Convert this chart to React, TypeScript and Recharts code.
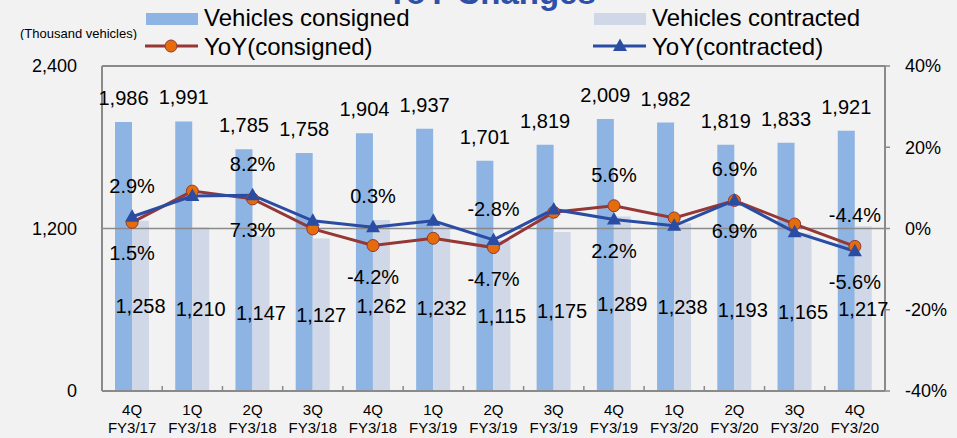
import React from 'react'
import { ComposedChart, Bar, Line, XAxis, YAxis, ReferenceLine, LabelList, Legend } from 'recharts'

const quarters = ['4Q', '1Q', '2Q', '3Q', '4Q', '1Q', '2Q', '3Q', '4Q', '1Q', '2Q', '3Q', '4Q']
const fiscalYears = ['FY3/17', 'FY3/18', 'FY3/18', 'FY3/18', 'FY3/18', 'FY3/19', 'FY3/19', 'FY3/19', 'FY3/19', 'FY3/20', 'FY3/20', 'FY3/20', 'FY3/20']
const consigned = [1986, 1991, 1785, 1758, 1904, 1937, 1701, 1819, 2009, 1982, 1819, 1833, 1921]
const contracted = [1258, 1210, 1147, 1127, 1262, 1232, 1115, 1175, 1289, 1238, 1193, 1165, 1217]
const yoyConsigned = [1.5, 9.2, 7.3, -0.1, -4.2, -2.4, -4.7, 4.0, 5.6, 2.6, 6.9, 1.1, -4.4]
const yoyContracted = [2.9, 8.0, 8.2, 1.9, 0.3, 1.9, -2.8, 4.7, 2.2, 0.7, 6.9, -0.9, -5.6]
const leftTicks = [0, 1200, 2400]
const rightTicks = [-40, -20, 0, 20, 40]

const data = quarters.map((q, i) => ({
  key: `${q} ${fiscalYears[i]}`,
  consigned: consigned[i],
  contracted: contracted[i],
  yoyConsigned: yoyConsigned[i],
  yoyContracted: yoyContracted[i],
}))

const FONT = '"Liberation Sans", Arial, sans-serif'
const BAR_BLUE = '#8DB4E2'
const BAR_GRAY = '#D0D8E8'
const RED = '#953735'
const ORANGE = '#E46C0A'
const BLUE = '#2A4CA3'
const AXIS = '#8A8A8A'

const fmt = (v: number) => v.toLocaleString('en-US')
const pct = (v: number) => `${v.toFixed(1)}%`

const XTick = (props: any) => {
  const { x, y, index, width, visibleTicksCount } = props
  const band = width / visibleTicksCount
  return (
    <g>
      {index < visibleTicksCount - 1 && (
        <line x1={x + band / 2} x2={x + band / 2} y1={y} y2={y - 5} stroke={AXIS} strokeWidth={1.5} />
      )}
      <text x={x} y={y + 24} textAnchor="middle" fontSize={15} fill="#000">{quarters[index]}</text>
      <text x={x} y={y + 42} textAnchor="middle" fontSize={15} fill="#000">{fiscalYears[index]}</text>
    </g>
  )
}

const topLabel = (props: any) => {
  const { x, y, width, value } = props
  return (
    <text x={x + width / 2} y={y - 17} textAnchor="middle" fontSize={20} fill="#000">{fmt(value)}</text>
  )
}

const midLabel = (props: any) => {
  const { x, y, width, height, value } = props
  return (
    <text x={x + width / 2} y={y + height / 2 + 7} textAnchor="middle" fontSize={20} fill="#000">{fmt(value)}</text>
  )
}

// every other quarter is labelled; the higher line gets its label above
const yoyLabel = (isConsigned: boolean) => (props: any) => {
  const { x, y, index, value } = props
  if (index % 2 !== 0) return <g />
  const c = yoyConsigned[index]
  const k = yoyContracted[index]
  const above = isConsigned ? c >= k : k > c
  return (
    <text x={x} y={above ? y - 24 : y + 38} textAnchor="middle" fontSize={20} fill="#000">{pct(value)}</text>
  )
}

const Triangle = (props: any) => {
  const { cx, cy, index } = props
  return (
    <path key={index} d={`M${cx},${cy - 7.5} L${cx + 7},${cy + 5} L${cx - 7},${cy + 5} Z`} fill={BLUE} />
  )
}

const renderLegend = () => (
  <svg width={957} height={64} style={{ display: 'block', fontFamily: FONT }}>
    <rect x={146} y={13} width={52} height={12} fill={BAR_BLUE} />
    <text x={204} y={26} fontSize={24} fill="#000">Vehicles consigned</text>
    <rect x={594} y={13} width={52} height={12} fill={BAR_GRAY} />
    <text x={652} y={26} fontSize={24} fill="#000">Vehicles contracted</text>
    <line x1={145} x2={198} y1={46} y2={46} stroke={RED} strokeWidth={3} />
    <circle cx={171} cy={46} r={6} fill={ORANGE} stroke={RED} strokeWidth={1} />
    <text x={204} y={55} fontSize={24} fill="#000">YoY(consigned)</text>
    <line x1={593} x2={646} y1={46} y2={46} stroke={BLUE} strokeWidth={3} />
    <path d="M620,38.5 L627,51 L613,51 Z" fill={BLUE} />
    <text x={652} y={55} fontSize={24} fill="#000">YoY(contracted)</text>
  </svg>
)

export default function App() {
  return (
    <div style={{ position: 'absolute', left: 0, top: 0, width: 957, height: 438, background: '#F2F2F2', fontFamily: FONT, overflow: 'hidden' }}>
      <ComposedChart
        width={957}
        height={438}
        data={data}
        margin={{ top: 66, right: 0, bottom: 0, left: 0 }}
        barGap={0}
        style={{ fontFamily: FONT }}
      >
        <XAxis
          dataKey="key"
          height={47}
          interval={0}
          tickLine={false}
          tickSize={0}
          tickMargin={0}
          axisLine={{ stroke: AXIS, strokeWidth: 2 }}
          tick={<XTick />}
        />
        <YAxis
          yAxisId="left"
          width={102}
          domain={[0, 2400]}
          ticks={leftTicks}
          tickFormatter={fmt}
          tickLine={false}
          tickSize={0}
          tickMargin={25}
          axisLine={{ stroke: AXIS, strokeWidth: 2 }}
          tick={{ fontSize: 18, fill: '#000' }}
        />
        <YAxis
          yAxisId="right"
          orientation="right"
          width={72}
          domain={[-40, 40]}
          ticks={rightTicks}
          tickFormatter={(v: number) => `${v}%`}
          tickLine={{ stroke: AXIS, strokeWidth: 1.5 }}
          tickSize={5}
          tickMargin={15}
          axisLine={{ stroke: AXIS, strokeWidth: 2 }}
          tick={{ fontSize: 18, fill: '#000' }}
        />
        <ReferenceLine yAxisId="left" y={2400} stroke={AXIS} strokeWidth={2} />
        <ReferenceLine yAxisId="left" y={1200} stroke={AXIS} strokeWidth={1.5} />
        <Legend verticalAlign="middle" align="center" content={renderLegend} wrapperStyle={{ top: 0, left: 0, width: 957, height: 64 }} />
        <Bar yAxisId="left" dataKey="consigned" fill={BAR_BLUE} barSize={17} isAnimationActive={false}>
          <LabelList dataKey="consigned" content={topLabel} />
        </Bar>
        <Bar yAxisId="left" dataKey="contracted" fill={BAR_GRAY} barSize={17} isAnimationActive={false}>
          <LabelList dataKey="contracted" content={midLabel} />
        </Bar>
        <Line
          yAxisId="right"
          dataKey="yoyConsigned"
          stroke={RED}
          strokeWidth={3}
          dot={{ r: 6, fill: ORANGE, stroke: RED, strokeWidth: 1 }}
          activeDot={false}
          isAnimationActive={false}
        >
          <LabelList dataKey="yoyConsigned" content={yoyLabel(true)} />
        </Line>
        <Line
          yAxisId="right"
          dataKey="yoyContracted"
          stroke={BLUE}
          strokeWidth={3}
          dot={<Triangle />}
          activeDot={false}
          isAnimationActive={false}
        >
          <LabelList dataKey="yoyContracted" content={yoyLabel(false)} />
        </Line>
      </ComposedChart>
      <svg width={957} height={40} style={{ position: 'absolute', left: 0, top: 0, pointerEvents: 'none' }}>
        <text x={491} y={4} textAnchor="middle" fontSize={33} fontWeight="bold" fill="#2E50A8" fontFamily={FONT}>YoY Changes</text>
        <text x={20} y={38} fontSize={13} fill="#000" fontFamily={FONT}>(Thousand vehicles)</text>
      </svg>
    </div>
  )
}
